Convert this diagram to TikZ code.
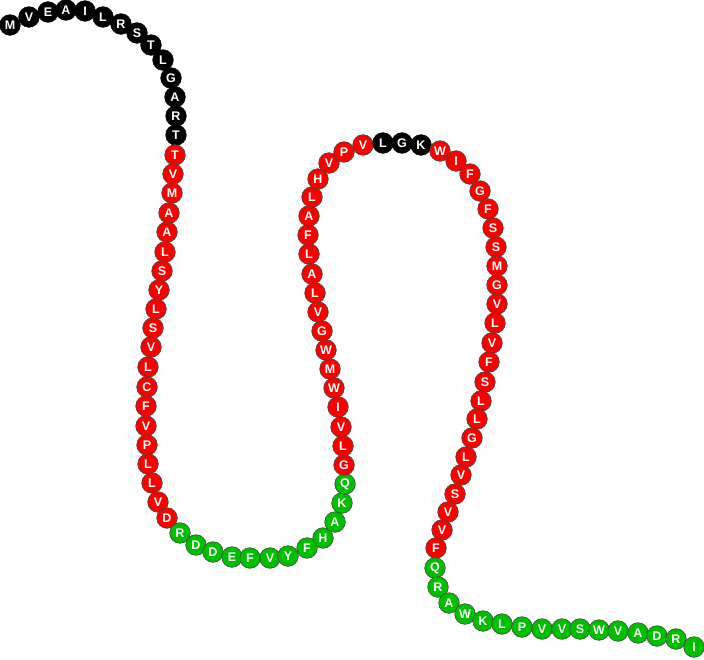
\documentclass[tikz,border=0pt]{standalone}
\usepackage{fontspec}
\usepackage{xcolor}
\usepackage{tikz}
\usetikzlibrary{positioning}
\newfontfamily\beadfont{Liberation Sans}[BoldFont={Liberation Sans Bold}]
\definecolor{bdblack}{RGB}{0,0,0}
\definecolor{bdred}{RGB}{250,0,0}
\definecolor{bdgreen}{RGB}{0,190,0}
\definecolor{bdrim}{RGB}{70,70,70}
\tikzset{
  bead/.style={circle, minimum size=20.6pt, inner sep=0pt, line width=0.6pt,
    text=white, font=\beadfont\bfseries\fontsize{12.5}{12.5}\selectfont},
  outbead/.style={bead, fill=bdblack, draw=bdblack},
  tmbead/.style={bead, fill=bdred, draw=bdrim},
  inbead/.style={bead, fill=bdgreen, draw=bdrim}
}

\begin{document}
\begin{tikzpicture}[x=1pt, y=-1pt]
\useasboundingbox (0,0) rectangle (704,659);

% ================= N-terminus (outside) =================
\foreach \px/\py/\aa [count=\i] in {%
  10/25/M, 29/17/V, 48/12/E, 66/10/A, 85/11/I, 103/17/L, 121/24/R,
  137/33/S, 151/45/T, 163/60/L, 171/78/G, 175/97/A, 176/116/R, 176/135/T}
  \node[outbead] (nt\i) at (\px,\py) {\aa};

% ================= helix 1 =================
\foreach \px/\py/\aa [count=\i] in {%
  175/155/T, 173/174/V, 172/193/M, 169/213/A, 167/232/A, 165/252/L,
  162/271/S, 159/290/Y, 156/309/L, 153/328/S, 151/347/V, 148/367/L,
  147/387/C, 146/406/F, 146/426/V, 147/445/P, 148/464/L, 152/483/L,
  158/502/V, 167/518/D}
  \node[tmbead] (ha\i) at (\px,\py) {\aa};

% ================= inner loop =================
\foreach \px/\py/\aa [count=\i] in {%
  180/533/R, 196/545/D, 213/552/D, 232/557/E, 250/558/F, 270/558/V,
  288/556/Y, 307/548/F, 323/538/H, 335/522/A, 342/503/K, 345/484/Q}
  \node[inbead] (la\i) at (\px,\py) {\aa};

% ================= helix 2 =================
\foreach \px/\py/\aa [count=\i] in {%
  344/465/G, 343/446/L, 341/427/V, 338/407/I, 334/388/W, 330/369/M,
  326/350/W, 322/331/G, 318/312/V, 315/293/L, 312/274/A, 309/254/L,
  308/235/F, 309/216/A, 312/197/L, 318/179/H, 329/163/V, 344/152/P,
  363/145/V}
  \node[tmbead] (hb\i) at (\px,\py) {\aa};

% ================= outer turn =================
\foreach \px/\py/\aa [count=\i] in {383/143/L, 402/143/G, 421/145/K}
  \node[outbead] (lb\i) at (\px,\py) {\aa};

% ================= helix 3 =================
\foreach \px/\py/\aa [count=\i] in {%
  440/151/W, 456/161/I, 470/174/F, 480/191/G, 488/209/F, 493/228/S,
  496/247/S, 497/266/M, 497/285/G, 497/304/V, 495/323/L, 492/343/V,
  489/362/F, 485/382/S, 481/401/L, 477/419/L, 472/438/G, 466/457/L,
  461/475/V, 455/494/S, 448/512/V, 442/530/V, 436/548/F}
  \node[tmbead] (hc\i) at (\px,\py) {\aa};

% ================= C-terminus (inside) =================
\foreach \px/\py/\aa [count=\i] in {%
  435/568/Q, 438/587/R, 449/603/A, 465/614/W, 483/621/K, 502/624/L,
  522/627/P, 542/629/V, 562/629/V, 580/629/S, 599/630/W, 618/631/V,
  638/633/A, 657/636/D, 676/639/R, 694/647/I}
  \node[inbead] (ct\i) at (\px,\py) {\aa};
\end{tikzpicture}
\end{document}
